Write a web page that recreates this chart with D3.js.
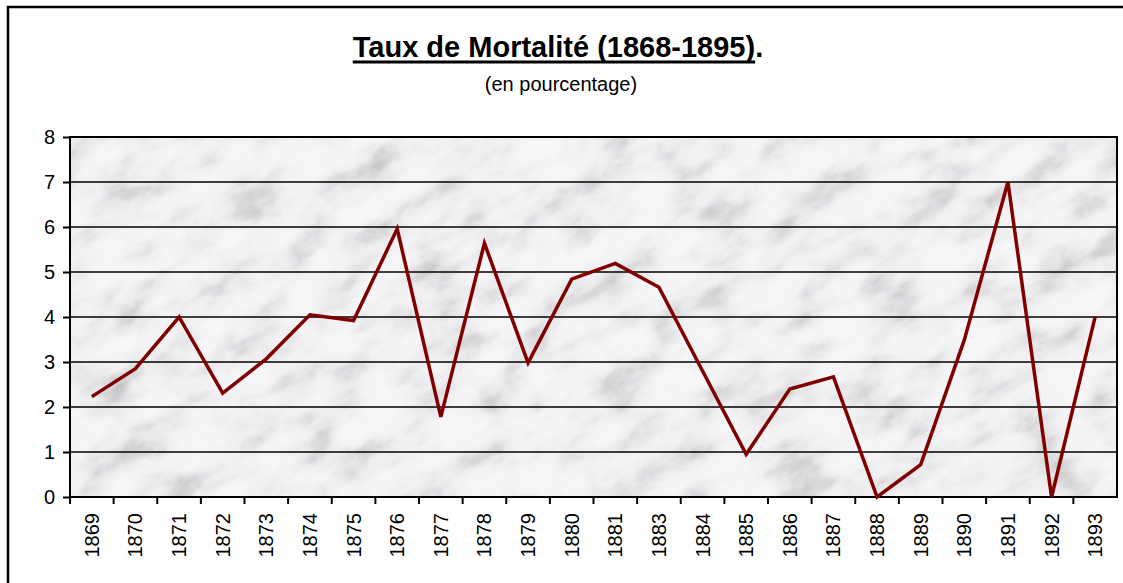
<!DOCTYPE html>
<html lang="fr">
    <head>
        <meta charset="utf-8">
        <title>Taux de Mortalité</title>
        <script src="https://cdn.jsdelivr.net/npm/d3@7/dist/d3.min.js" charset="utf-8"></script>
        <style type="text/css">
            body { margin: 0; background: #fff; }
            #chart { width: 1123px; height: 583px; overflow: hidden; }
            text { font-family: "Liberation Sans", Arial, sans-serif; fill: #000; }
        </style>
    </head>
    <body>
        <div id="chart"></div>
        <script>
            // Donnees
            var annees = ["1869", "1870", "1871", "1872", "1873", "1874", "1875", "1876",
                          "1877", "1878", "1879", "1880", "1881", "1883", "1884", "1885",
                          "1886", "1887", "1888", "1889", "1890", "1891", "1892", "1893"];
            var taux = [2.23, 2.85, 4.0, 2.31, 3.07, 4.05, 3.92, 5.96,
                        1.78, 5.64, 2.98, 4.84, 5.19, 4.66, 2.8, 0.95,
                        2.4, 2.67, 0, 0.72, 3.49, 7.0, 0, 4.01];
            var graduations = [0, 1, 2, 3, 4, 5, 6, 7, 8];
            var titre = "Taux de Mortalité (1868-1895)";
            var sousTitre = "(en pourcentage)";

            var data = annees.map(function(a, i) { return { annee: a, valeur: taux[i] }; });

            var W = 1123, H = 583;
            var plot = { left: 70, right: 1117, top: 137, bottom: 497 };

            var svg = d3.select("#chart").append("svg")
                .attr("width", W)
                .attr("height", H);

            // Cadre exterieur (coupe a droite et en bas)
            svg.append("rect")
                .attr("x", 8).attr("y", 7)
                .attr("width", 1200).attr("height", 700)
                .style("fill", "#fff")
                .style("stroke", "#000")
                .style("stroke-width", 2.5);

            // Titre
            var t = svg.append("text")
                .attr("x", 558)
                .attr("y", 57)
                .attr("text-anchor", "middle")
                .style("font-size", "29px")
                .style("font-weight", "bold");
            var ts = t.append("tspan").text(titre);
            t.append("tspan").text(".");

            // soulignement (sans le point final)
            var x0 = t.node().getStartPositionOfChar(0).x;
            var lg = ts.node().getComputedTextLength();
            svg.append("line")
                .attr("x1", x0).attr("x2", x0 + lg)
                .attr("y1", 62).attr("y2", 62)
                .style("stroke", "#000")
                .style("stroke-width", 3);

            svg.append("text")
                .attr("x", 561)
                .attr("y", 91)
                .attr("text-anchor", "middle")
                .style("font-size", "20px")
                .text(sousTitre);

            // Texture marbre
            var defs = svg.append("defs");
            var f = defs.append("filter")
                .attr("id", "marbre")
                .attr("x", 0).attr("y", 0).attr("width", 1).attr("height", 1);
            f.append("feTurbulence")
                .attr("type", "fractalNoise")
                .attr("baseFrequency", "0.018 0.032")
                .attr("numOctaves", 6)
                .attr("seed", 11);
            f.append("feColorMatrix")
                .attr("type", "matrix")
                .attr("values", "1 0 0 0 0  1 0 0 0 0  1 0 0 0 0  0 0 0 0 1");
            var ct = f.append("feComponentTransfer");
            ct.append("feFuncR").attr("type", "table").attr("tableValues", "0.52 0.6 0.7 0.81 0.88 0.91 0.92 0.93 0.94");
            ct.append("feFuncG").attr("type", "table").attr("tableValues", "0.52 0.6 0.7 0.81 0.88 0.91 0.92 0.93 0.94");
            ct.append("feFuncB").attr("type", "table").attr("tableValues", "0.54 0.62 0.72 0.83 0.9 0.93 0.94 0.95 0.96");

            defs.append("clipPath").attr("id", "zone")
                .append("rect")
                .attr("x", plot.left).attr("y", plot.top)
                .attr("width", plot.right - plot.left)
                .attr("height", plot.bottom - plot.top);

            svg.append("g")
                .attr("clip-path", "url(#zone)")
                .append("rect")
                .attr("x", -500).attr("y", -700)
                .attr("width", 2200).attr("height", 1900)
                .attr("transform", "rotate(-30 590 320)")
                .attr("filter", "url(#marbre)");

            // Echelles
            var x = d3.scaleBand()
                .domain(annees)
                .range([plot.left, plot.right]);

            var y = d3.scaleLinear()
                .domain([0, 8])
                .range([plot.bottom, plot.top]);

            // Grille
            svg.selectAll(".grille")
                .data(graduations)
                .enter()
                .append("line")
                .attr("class", "grille")
                .attr("x1", plot.left).attr("x2", plot.right)
                .attr("y1", function(d) { return y(d); })
                .attr("y2", function(d) { return y(d); })
                .style("stroke", "#000")
                .style("stroke-width", 1.6);

            // Bordure zone de trace
            svg.append("rect")
                .attr("x", plot.left).attr("y", plot.top)
                .attr("width", plot.right - plot.left)
                .attr("height", plot.bottom - plot.top)
                .style("fill", "none")
                .style("stroke", "#000")
                .style("stroke-width", 2);

            // Axe y
            var yAxis = d3.axisLeft(y)
                .tickValues(graduations)
                .tickSize(7)
                .tickPadding(8)
                .tickFormat(d3.format("d"));

            var gy = svg.append("g")
                .attr("transform", "translate(" + plot.left + ",0)")
                .call(yAxis);
            gy.select(".domain").remove();
            gy.selectAll("line").style("stroke", "#000").style("stroke-width", 2);
            gy.selectAll("text")
                .style("font-size", "20px")
                .style("font-family", "'Liberation Sans', Arial, sans-serif");

            // Axe x
            var xAxis = d3.axisBottom(x)
                .tickSize(0);

            var gx = svg.append("g")
                .attr("transform", "translate(0," + plot.bottom + ")")
                .call(xAxis);
            gx.select(".domain").remove();
            gx.selectAll("text")
                .attr("transform", "rotate(-90)")
                .attr("x", -16)
                .attr("y", 0)
                .attr("dy", "0.35em")
                .style("text-anchor", "end")
                .style("font-size", "20px")
                .style("font-family", "'Liberation Sans', Arial, sans-serif");

            // Traits de graduation entre les categories
            svg.selectAll(".tic")
                .data(annees)
                .enter()
                .append("line")
                .attr("class", "tic")
                .attr("x1", function(d) { return x(d); })
                .attr("x2", function(d) { return x(d); })
                .attr("y1", plot.bottom)
                .attr("y2", plot.bottom + 7)
                .style("stroke", "#000")
                .style("stroke-width", 2);

            // Courbe
            var ligne = d3.line()
                .x(function(d) { return x(d.annee) + x.bandwidth() / 2; })
                .y(function(d) { return y(d.valeur); });

            svg.append("path")
                .datum(data)
                .attr("d", ligne)
                .style("fill", "none")
                .style("stroke", "#800000")
                .style("stroke-width", 3.5)
                .style("stroke-linejoin", "miter");
        </script>
    </body>
</html>
